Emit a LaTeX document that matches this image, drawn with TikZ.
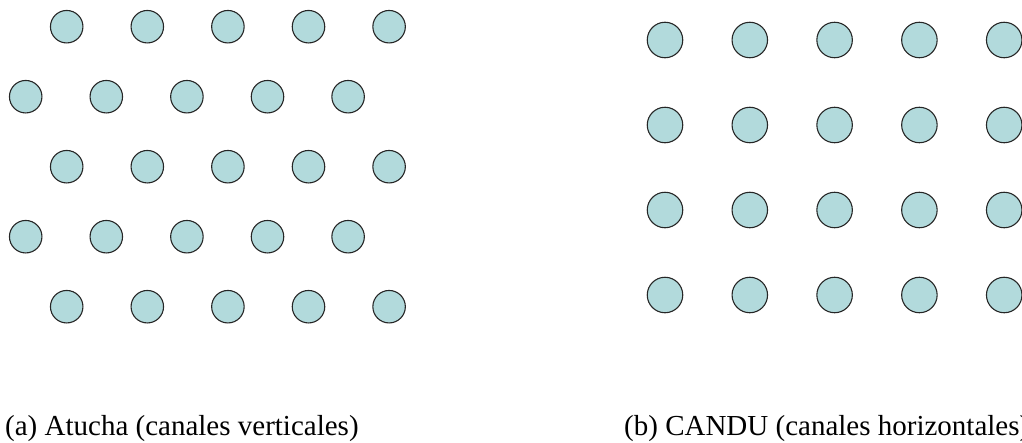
\documentclass[tikz,border=0pt]{standalone}
\usepackage{fontspec}
\setmainfont{Liberation Serif}
\begin{document}
\begin{tikzpicture}[x=1pt,y=-1pt,
  channel/.style={circle,draw=black!85,line width=1.1pt,fill=chfill,inner sep=0pt},
  chA/.style={channel,minimum size=32.5pt},
  chB/.style={channel,minimum size=35.5pt},
  caption/.style={anchor=base west,inner sep=0pt,font=\fontsize{29}{33}\selectfont}]
\definecolor{chfill}{RGB}{178,218,220}
\useasboundingbox (0,0) rectangle (1022,442);
% (a) hexagonal pitch, five rows, alternate rows shifted by half a pitch
\foreach \r in {0,...,4}{
  \pgfmathsetmacro{\xo}{isodd(\r) ? 25.7 : 66.7}
  \foreach \c in {0,...,4}{
    \node[chA] (a-\r-\c) at ({\xo+80.6*\c},{26.7+70*\r}) {};
  }
}
% (b) square pitch, four rows
\foreach \r in {0,...,3}{
  \foreach \c in {0,...,4}{
    \node[chB] (b-\r-\c) at ({665+84.8*\c},{40+85*\r}) {};
  }
}
\node[caption] (capA) at (5,435) {(a) Atucha (canales verticales)};
\node[caption] (capB) at (624,435) {(b) CANDU (canales horizontales)};
\end{tikzpicture}
\end{document}
